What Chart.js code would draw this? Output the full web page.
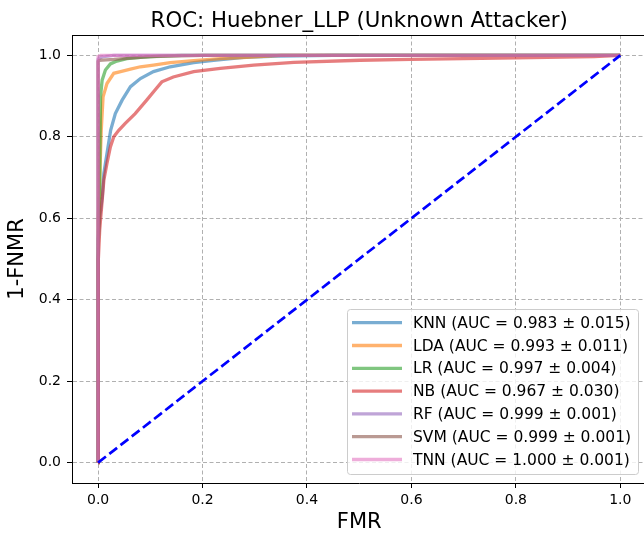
<!DOCTYPE html>
<html>
<head>
<meta charset="utf-8">
<script src="https://cdn.jsdelivr.net/npm/chart.js@4"></script>
<style>
  body { margin: 0; overflow: hidden; background: #fff; }
  #wrap { width: 660px; height: 536px; }
</style>
</head>
<body>
<div id="wrap"><canvas id="myChart" width="660" height="536"></canvas></div>
<script>
const titleText = "ROC: Huebner_LLP (Unknown Attacker)";
const models = ["KNN", "LDA", "LR", "NB", "RF", "SVM", "TNN"];
const aucText = ["0.983 ± 0.015", "0.993 ± 0.011", "0.997 ± 0.004", "0.967 ± 0.030", "0.999 ± 0.001", "0.999 ± 0.001", "1.000 ± 0.001"];
const colors = ["31,119,180", "255,127,14", "44,160,44", "214,39,40", "148,103,189", "140,86,75", "227,119,194"];

// FMR (x) and 1-FNMR (y)
const knnFmr = [0, 0, 0.001, 0.003, 0.008, 0.011, 0.017, 0.024, 0.033, 0.046, 0.062, 0.081, 0.106, 0.138, 0.183, 0.221, 0.279, 0.343, 0.45, 1.0];
const knnTpr = [0, 0.4, 0.55, 0.603, 0.653, 0.71, 0.759, 0.816, 0.857, 0.89, 0.923, 0.943, 0.96, 0.972, 0.982, 0.988, 0.995, 0.998, 1.0, 1.0];
const ldaFmr = [0, 0, 0.001, 0.003, 0.006, 0.0095, 0.017, 0.03, 0.043, 0.062, 0.081, 0.106, 0.138, 0.183, 0.234, 0.285, 0.35, 1.0];
const ldaTpr = [0, 0.45, 0.6, 0.694, 0.816, 0.898, 0.931, 0.956, 0.96, 0.966, 0.972, 0.976, 0.982, 0.987, 0.992, 0.995, 1.0, 1.0];
const lrFmr = [0, 0, 0.002, 0.0033, 0.0046, 0.0077, 0.014, 0.0235, 0.036, 0.055, 0.081, 0.119, 0.16, 1.0];
const lrTpr = [0, 0.5, 0.65, 0.735, 0.898, 0.939, 0.964, 0.979, 0.986, 0.992, 0.995, 0.998, 1.0, 1.0];
const nbFmr = [0, 0, 0.001, 0.003, 0.011, 0.017, 0.0235, 0.03, 0.0395, 0.052, 0.071, 0.093, 0.109, 0.122, 0.144, 0.183, 0.234, 0.298, 0.375, 0.502, 0.6, 0.8, 0.95, 1.0];
const nbTpr = [0, 0.35, 0.5, 0.571, 0.694, 0.735, 0.775, 0.8, 0.816, 0.833, 0.857, 0.89, 0.915, 0.935, 0.947, 0.96, 0.968, 0.976, 0.983, 0.988, 0.99, 0.994, 0.997, 1.0];
const rfFmr = [0, 0, 0.002, 0.01, 0.03, 1.0];
const rfTpr = [0, 0.99, 0.993, 0.997, 1.0, 1.0];
const svmFmr = [0, 0, 0.002, 0.03, 0.06, 0.1, 0.2, 1.0];
const svmTpr = [0, 0.985, 0.988, 0.99, 0.993, 0.997, 1.0, 1.0];
const tnnFmr = [0, 0, 0.005, 1.0];
const tnnTpr = [0, 0.997, 1.0, 1.0];
const chanceFmr = [0, 1];
const chanceTpr = [0, 1];

const fmrs = [knnFmr, ldaFmr, lrFmr, nbFmr, rfFmr, svmFmr, tnnFmr];
const tprs = [knnTpr, ldaTpr, lrTpr, nbTpr, rfTpr, svmTpr, tnnTpr];
const tickVals = [0, 0.2, 0.4, 0.6, 0.8, 1.0];

const font = '"DejaVu Sans", sans-serif';

function pts(xs, ys) {
    return xs.map((x, i) => ({ x: x, y: ys[i] }));
}

let datasets = [];
for (let i = 0; i < models.length; i++) {
    datasets.push({
        label: models[i] + " (AUC = " + aucText[i] + ")",
        data: pts(fmrs[i], tprs[i]),
        showLine: true,
        borderColor: "rgba(" + colors[i] + ",0.6)",
        backgroundColor: "rgba(" + colors[i] + ",0.6)",
        borderWidth: 3.3,
        pointRadius: 0,
        tension: 0,
        order: models.length - i
    });
}
datasets.push({
    label: "chance",
    data: pts(chanceFmr, chanceTpr),
    showLine: true,
    borderColor: "#0000ff",
    borderWidth: 2.7,
    borderDash: [9.9, 4.3],
    pointRadius: 0,
    order: 0
});

// title, top/right spines and the legend box
const extras = {
    id: 'extras',
    afterDraw(chart) {
        const ctx = chart.ctx;
        const a = chart.chartArea;
        ctx.save();
        ctx.strokeStyle = '#000';
        ctx.lineWidth = 1;
        ctx.beginPath();
        ctx.moveTo(a.left, a.top + 0.5);
        ctx.lineTo(a.right, a.top + 0.5);
        ctx.moveTo(a.right - 0.5, a.top);
        ctx.lineTo(a.right - 0.5, a.bottom);
        ctx.stroke();

        ctx.fillStyle = '#000';
        ctx.font = '21.3px ' + font;
        ctx.textAlign = 'center';
        ctx.textBaseline = 'alphabetic';
        ctx.fillText(titleText, (a.left + a.right) / 2, 26.7);

        // legend
        const bx = 347, by = 309, bw = 291, bh = 165;
        ctx.beginPath();
        ctx.roundRect(bx + 0.5, by + 0.5, bw, bh, 3);
        ctx.fillStyle = 'rgba(255,255,255,0.8)';
        ctx.fill();
        ctx.strokeStyle = '#cccccc';
        ctx.lineWidth = 1;
        ctx.stroke();
        ctx.font = '15.5px ' + font;
        ctx.textAlign = 'left';
        ctx.textBaseline = 'middle';
        for (let i = 0; i < models.length; i++) {
            const ds = chart.data.datasets[i];
            const y = 322.7 + i * 22.8;
            ctx.strokeStyle = ds.borderColor;
            ctx.lineWidth = 3.3;
            ctx.beginPath();
            ctx.moveTo(352, y);
            ctx.lineTo(402, y);
            ctx.stroke();
            ctx.fillStyle = '#000';
            ctx.fillText(ds.label, 413, y + 1);
        }
        ctx.restore();
    }
};

const axisCommon = {
    type: 'linear',
    min: -0.05,
    max: 1.05,
    grid: {
        color: '#b0b0b0',
        lineWidth: 1,
        tickColor: '#000',
        tickWidth: 1,
        tickLength: 5,
        tickBorderDash: []
    },
    border: { display: true, color: '#000', width: 1, dash: [4, 2.5] },
    ticks: {
        stepSize: 0.2,
        includeBounds: false,
        color: '#000',
        font: { family: font, size: 14 },
        callback: (v) => v.toFixed(1)
    }
};

new Chart(document.getElementById('myChart'), {
    type: 'scatter',
    data: { datasets: datasets },
    options: {
        responsive: false,
        animation: false,
        devicePixelRatio: 1,
        layout: { padding: { left: 0, top: 35, right: 13.6, bottom: 0 } },
        plugins: { legend: { display: false }, tooltip: { enabled: false }, title: { display: false } },
        scales: {
            x: Object.assign({}, axisCommon, {
                position: 'bottom',
                ticks: Object.assign({}, axisCommon.ticks, { padding: 4 }),
                title: { display: true, text: 'FMR', color: '#000', font: { family: font, size: 21 }, padding: { top: 0, bottom: 1 } },
                afterFit: (s) => { s.height = 53; }
            }),
            y: Object.assign({}, axisCommon, {
                position: 'left',
                ticks: Object.assign({}, axisCommon.ticks, { padding: 6 }),
                title: { display: true, text: '1-FNMR', color: '#000', font: { family: font, size: 21 }, padding: { top: 5.4, bottom: 0 } },
                afterFit: (s) => { s.width = 72; }
            })
        }
    },
    plugins: [extras]
});
</script>
</body>
</html>
